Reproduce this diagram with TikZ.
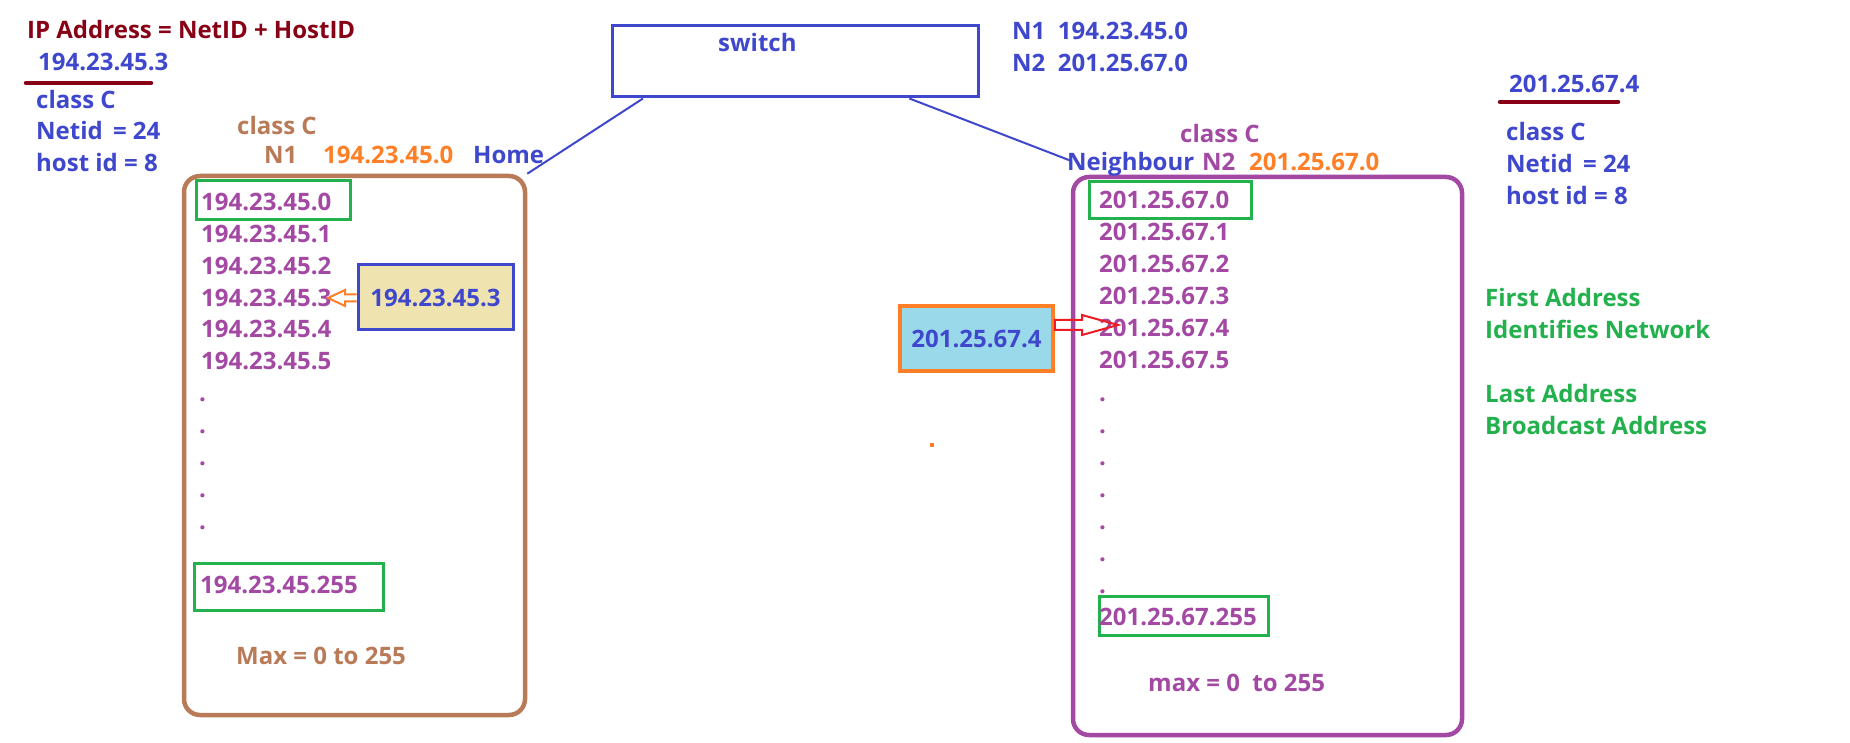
\documentclass[tikz,border=0pt]{standalone}
\usepackage{fontspec}
\setmainfont{Open Sans}
\usetikzlibrary{calc}
\definecolor{dred}{HTML}{880015}
\definecolor{iblue}{HTML}{3F48CC}
\definecolor{ibrown}{HTML}{B97A57}
\definecolor{iorange}{HTML}{FF7F27}
\definecolor{ipurple}{HTML}{A349A4}
\definecolor{igreen}{HTML}{22B14C}
\definecolor{iyellow}{HTML}{EFE4B0}
\definecolor{icyan}{HTML}{99D9EA}
\definecolor{ired}{HTML}{ED1C24}
\begin{document}
\begin{tikzpicture}[x=1pt,y=-1pt,
  txt/.style={inner sep=0pt, anchor=west, font=\fontsize{24}{28}\selectfont\bfseries, text height=17.1pt, text depth=0pt},
  dotx/.style={inner sep=0pt, anchor=base west, font=\fontsize{24}{28}\selectfont\bfseries, text=ipurple},
  gbox/.style={draw=igreen, line width=3pt, inner sep=0pt},
  netbox/.style={rounded corners=16pt, line width=4.5pt, inner sep=0pt},
  hostbox/.style={line width=3pt, inner sep=0pt, font=\fontsize{24}{28}\selectfont\bfseries, text=iblue, text height=17.1pt, text depth=0pt},
  link/.style={draw=iblue, line width=2pt}]
\useasboundingbox[fill=white] (0,0) rectangle (1850,743);

% top-left notes
\node[txt, text=dred] (title) at (27,30) {IP Address = NetID + HostID};
\node[txt, text=iblue] (ipa) at (38,62) {194.23.45.3};
\draw[dred, line width=4.5pt, line cap=round] (26,83) -- (151,83);
\node[txt, text=iblue] (ca) at (36,100) {class C};
\node[txt, text=iblue] (na) at (36,131) {Netid \,= 24};
\node[txt, text=iblue] (ha) at (36,163) {host id = 8};

% switch
\node[draw=iblue, line width=3pt, minimum width=366pt, minimum height=71pt, inner sep=0pt] (sw) at (795,61.5) {};
\node[txt, text=iblue] (swt) at (718,43) {switch};
\node[txt, text=iblue] (n1) at (1012,31) {N1\ \ 194.23.45.0};
\node[txt, text=iblue] (n2) at (1012,63) {N2\ \ 201.25.67.0};

% home network
\node[netbox, draw=ibrown, minimum width=341pt, minimum height=539pt] (home) at (354.5,445.5) {};
\node[txt, text=ibrown] (hc) at (237,126) {class C};
\node[txt, text=ibrown] (hn) at (264,155) {N1};
\node[txt, text=iorange] (hip) at (323,155) {194.23.45.0};
\node[txt, text=iblue] (hl) at (473,155) {Home};
\node[gbox, minimum width=154pt, minimum height=39pt] (g1) at (273,200.5) {};
\foreach \i/\y in {0/202,1/234,2/266,3/297.5,4/329,5/361}
  \node[txt, text=ipurple] (h\i) at (201,\y) {194.23.45.\i};
\foreach \y in {401.5,433.5,465.5,497.5,529.5}
  \node[dotx] at (199,\y) {.};
\node[gbox, minimum width=189pt, minimum height=47pt] (g2) at (288.5,586.5) {};
\node[txt, text=ipurple] (h255) at (200,585) {194.23.45.255};
\node[txt, text=ibrown] (hmax) at (236,656) {Max = 0 to 255};

\node[hostbox, draw=iblue, fill=iyellow, minimum width=155pt, minimum height=65pt] (yb) at (435.5,297.5) {194.23.45.3};
\coordinate (otip) at (328,298);
\draw[iorange, line width=2pt, line join=miter]
  (yb.west |- 0,294.5) -- (345,294.5) -- (345,290) -- (otip) -- (345,306) -- (345,301.5) -- (yb.west |- 0,301.5);

% neighbour network
\node[netbox, draw=ipurple, minimum width=389pt, minimum height=558pt] (nb) at (1267.5,456) {};
\node[txt, text=ipurple] (nc) at (1180,134) {class C};
\node[txt, text=iblue] (nl) at (1067,162) {Neighbour};
\node[txt, text=ipurple] (nn) at (1202,162) {N2};
\node[txt, text=iorange] (nip) at (1249,162) {201.25.67.0};
\node[gbox, minimum width=162pt, minimum height=37pt] (g3) at (1170,200.5) {};
\foreach \i/\y in {0/200,1/232,2/264,3/296,4/328,5/360}
  \node[txt, text=ipurple] (r\i) at (1099,\y) {201.25.67.\i};
\foreach \y in {401.5,433.5,465.5,497.5,529.5,561.5,593.5}
  \node[dotx] at (1099,\y) {.};
\node[gbox, minimum width=169pt, minimum height=39pt] (g4) at (1183.5,615.5) {};
\node[txt, text=ipurple] (r255) at (1099,617) {201.25.67.255};
\node[txt, text=ipurple] (rmax) at (1148,683) {max = 0\ \ to 255};

\node[hostbox, draw=iorange, fill=icyan, line width=3.5pt, minimum width=153pt, minimum height=65pt] (cb) at (976.5,338.5) {201.25.67.4};
\coordinate (rtip) at (1118,325);
\draw[ired, line width=2pt, line join=miter]
  (cb.east |- 0,320) -- (1082,320) -- (1082,315) -- (rtip) -- (1082,335) -- (1082,330) -- (cb.east |- 0,330) -- cycle;

% links from switch
\draw[link] ($(sw.south west)!0.088!(sw.south east)$) -- (home.north east);
\draw[link] ($(sw.south west)!0.81!(sw.south east)$) -- ($(nb.north west)+(0,-14)$);

% stray mark
\fill[iorange] (930,443) rectangle (934,447);

% right notes
\node[txt, text=iblue] (ipb) at (1509,84) {201.25.67.4};
\draw[dred, line width=4.5pt, line cap=round] (1500,102) -- (1618,102);
\node[txt, text=iblue] (cbx) at (1506,132) {class C};
\node[txt, text=iblue] (nbx) at (1506,164) {Netid \,= 24};
\node[txt, text=iblue] (hbx) at (1506,196) {host id = 8};
\node[txt, text=igreen] (f1) at (1485,298) {First Address};
\node[txt, text=igreen] (f2) at (1485,330) {Identifies Network};
\node[txt, text=igreen] (f3) at (1485,394) {Last Address};
\node[txt, text=igreen] (f4) at (1485,426) {Broadcast Address};
\end{tikzpicture}
\end{document}
